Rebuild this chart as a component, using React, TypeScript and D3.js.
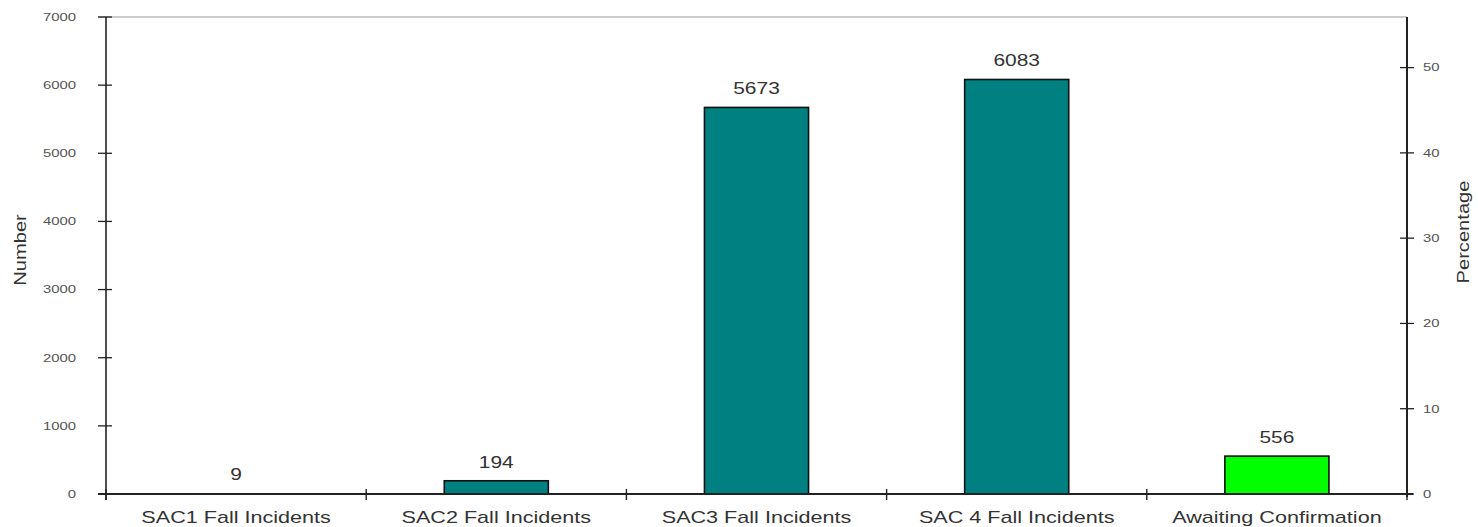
import React from "react";
import * as d3 from "d3";

const categories = [
  "SAC1 Fall Incidents",
  "SAC2 Fall Incidents",
  "SAC3 Fall Incidents",
  "SAC 4 Fall Incidents",
  "Awaiting Confirmation",
];
const values = [9, 194, 5673, 6083, 556];
const barColors = ["#008080", "#008080", "#008080", "#008080", "#00FF00"];
const leftTicks = [0, 1000, 2000, 3000, 4000, 5000, 6000, 7000];
const rightTicks = [0, 10, 20, 30, 40, 50];

const W = 1478;
const H = 527;
const margin = { left: 106, right: 71, top: 17, bottom: 33 };
const SX = 1.27; // horizontal stretch of the text in the reference

export default function App() {
  const total = d3.sum(values);
  const x0 = margin.left;
  const x1 = W - margin.right;
  const y0 = H - margin.bottom;
  const y1 = margin.top;

  const x = d3.scaleBand<string>().domain(categories).range([x0, x1]).paddingInner(0).paddingOuter(0);
  const y = d3.scaleLinear().domain([0, 7000]).range([y0, y1]);
  const yPct = d3.scaleLinear().domain([0, (7000 / total) * 100]).range([y0, y1]);
  const bw = x.bandwidth() * 0.4;
  const font = "'Liberation Sans', Arial, sans-serif";

  return (
    <svg width={W} height={H} style={{ position: "absolute", left: 0, top: 0, background: "#fff" }}>
      {/* top frame line */}
      <line x1={x0 - 8} x2={x1} y1={y1} y2={y1} stroke="#999" strokeWidth={1.2} />
      {/* bars */}
      {values.map((v, i) => {
        const cx = (x(categories[i]) as number) + x.bandwidth() / 2;
        const h = y0 - y(v);
        return (
          <g key={i}>
            {h > 2 && (
              <rect
                x={cx - bw / 2}
                y={y(v)}
                width={bw}
                height={h}
                fill={barColors[i]}
                stroke="#111"
                strokeWidth={1.6}
              />
            )}
            <text
              transform={`translate(${cx}, ${y(v) - 13}) scale(${SX}, 1)`}
              textAnchor="middle"
              fontFamily={font}
              fontSize={16.5}
              fill="#333"
            >
              {v}
            </text>
            <text
              transform={`translate(${cx}, ${y0 + 29}) scale(${SX}, 1)`}
              textAnchor="middle"
              fontFamily={font}
              fontSize={17}
              fill="#333"
            >
              {categories[i]}
            </text>
          </g>
        );
      })}
      {/* bottom axis */}
      <line x1={x0 - 8} x2={x1 + 6} y1={y0} y2={y0} stroke="#222" strokeWidth={1.8} />
      {d3.range(categories.length + 1).map((i) => {
        const tx = x0 + i * x.bandwidth();
        return <line key={i} x1={tx} x2={tx} y1={y0 - 5} y2={y0 + 6} stroke="#222" strokeWidth={1.4} />;
      })}
      {/* left axis */}
      <line x1={x0} x2={x0} y1={y1} y2={y0 + 6} stroke="#222" strokeWidth={1.6} />
      {leftTicks.map((t) => (
        <g key={t}>
          <line x1={x0 - 8} x2={x0 + 6} y1={y(t)} y2={y(t)} stroke="#222" strokeWidth={1.3} />
          <text
            transform={`translate(${x0 - 30}, ${y(t)}) scale(1.35, 1)`}
            dy="0.35em"
            textAnchor="end"
            fontFamily={font}
            fontSize={11}
            fill="#555"
          >
            {t}
          </text>
        </g>
      ))}
      {/* right axis */}
      <line x1={x1} x2={x1} y1={y1} y2={y0 + 3} stroke="#222" strokeWidth={2} />
      {rightTicks.map((t) => (
        <g key={t}>
          <line x1={x1 - 7} x2={x1 + 7} y1={yPct(t)} y2={yPct(t)} stroke="#222" strokeWidth={1.3} />
          <text
            transform={`translate(${x1 + 16}, ${yPct(t)}) scale(1.35, 1)`}
            dy="0.35em"
            textAnchor="start"
            fontFamily={font}
            fontSize={11}
            fill="#555"
          >
            {t}
          </text>
        </g>
      ))}
      {/* axis titles */}
      <text
        transform={`translate(26, 250) rotate(-90) scale(1.22, 1)`}
        textAnchor="middle"
        fontFamily={font}
        fontSize={16.5}
        fill="#333"
      >
        Number
      </text>
      <text
        transform={`translate(1469, 232) rotate(-90) scale(1.22, 1)`}
        textAnchor="middle"
        fontFamily={font}
        fontSize={16.5}
        fill="#333"
      >
        Percentage
      </text>
    </svg>
  );
}
